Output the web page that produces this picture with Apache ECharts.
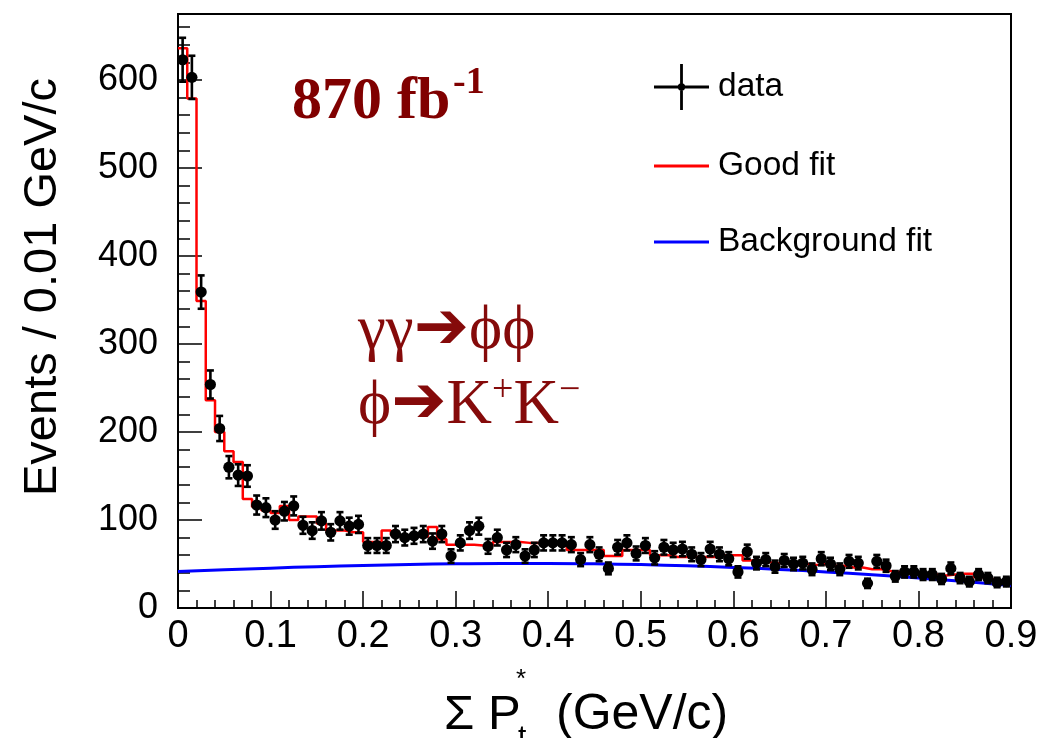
<!DOCTYPE html>
<html>
<head>
<meta charset="utf-8">
<script src="https://cdn.jsdelivr.net/npm/echarts@6/dist/echarts.min.js"></script>
<style>
  html, body { margin: 0; padding: 0; background: #ffffff; }
  #chart { width: 1043px; height: 738px; }
</style>
</head>
<body>
<div id="chart"></div>
<script>
// Histogram binning of the summed transverse momentum (GeV/c)
const binWidth = 0.01;
const xTickLabels = ['0', '0.1', '0.2', '0.3', '0.4', '0.5', '0.6', '0.7', '0.8', '0.9'];
const yTickLabels = ['0', '100', '200', '300', '400', '500', '600'];

// Observed events per 0.01 GeV/c bin (90 bins from 0 to 0.9)
const dataCounts = [
  623, 603, 359, 254, 204, 160, 151, 150, 117, 114,
  100, 110, 116, 94, 88, 99, 86, 99, 93, 95,
  71, 71, 71, 84, 80, 82, 84, 76, 84, 59,
  74, 88, 93, 70, 80, 66, 72, 59, 66, 74,
  74, 74, 72, 55, 72, 61, 45, 69, 74, 62,
  71, 57, 69, 66, 67, 61, 55, 67, 61, 56,
  41, 64, 51, 55, 47, 54, 50, 51, 44, 56,
  50, 44, 53, 51, 28, 53, 48, 36, 41, 41,
  38, 38, 33, 45, 34, 30, 38, 34, 29, 30
];

// Total fit (signal + background), one value per bin
const goodFit = [
  636, 579, 349, 236, 200, 178, 166, 124, 115, 111,
  108, 116, 100, 104, 104, 96, 88, 88, 86, 86,
  75, 75, 88, 83, 81, 81, 81, 92, 78, 72,
  72, 72, 71, 71, 75, 75, 75, 74, 74, 74,
  74, 74, 66, 66, 66, 66, 59, 59, 66, 66,
  66, 60, 60, 58, 58, 58, 58, 58, 60, 60,
  60, 54, 54, 52, 51, 51, 50, 50, 49, 50,
  48, 48, 46, 46, 44, 44, 42, 41, 40, 40,
  39, 38, 37, 38, 39, 39, 35, 33, 31, 30
];

// Background-only fit, sampled along the axis
const bgFitX = [0, 0.05, 0.1, 0.15, 0.2, 0.25, 0.3, 0.35, 0.4, 0.45,
                0.5, 0.55, 0.6, 0.65, 0.7, 0.75, 0.8, 0.85, 0.9];
const bgFitY = [41.5, 43.5, 45.3, 47.0, 48.3, 49.4, 50.2, 50.6, 50.6, 50.2,
                49.3, 47.9, 46.1, 43.8, 41.0, 37.8, 34.2, 30.0, 25.5];

const SANS = '"Liberation Sans", Arial, Helvetica, sans-serif';
const SERIF = '"Liberation Serif", "Times New Roman", serif';
const ANNOT = '#850a0a';

const chart = echarts.init(document.getElementById('chart'), null, { renderer: 'canvas' });

const pointData = dataCounts.map((n, i) => [(i + 0.5) * binWidth, n, Math.sqrt(n)]);
const fitData = goodFit.map((v, i) => [i * binWidth, v]);
fitData.push([goodFit.length * binWidth, goodFit[goodFit.length - 1]]);
const bgData = bgFitX.map((x, i) => [x, bgFitY[i]]);

const dataIcon = 'path://M0,21.6 H55 V24.4 H0 Z M26.1,0 H28.9 V46 H26.1 Z ' +
                 'M23.8,23 A3.7,3.7 0 1 1 31.2,23 A3.7,3.7 0 1 1 23.8,23 Z';

const option = {
  animation: false,
  backgroundColor: '#ffffff',
  grid: {
    left: 178, right: 32, top: 14, bottom: 130,
    show: true, borderColor: '#000', borderWidth: 2, backgroundColor: 'transparent'
  },
  legend: [
    {
      selectedMode: false,
      left: 649, top: 59,
      itemWidth: 55, itemHeight: 46,
      textStyle: { fontFamily: SANS, fontSize: 33.5, color: '#000', padding: [0, 0, 0, 4] },
      data: [{ name: 'data', icon: dataIcon }]
    },
    {
      selectedMode: false,
      orient: 'vertical',
      left: 649, top: 141,
      itemWidth: 55, itemHeight: 3, itemGap: 36,
      textStyle: { fontFamily: SANS, fontSize: 33.5, color: '#000', lineHeight: 40, padding: [0, 0, 0, 4] },
      data: [{ name: 'Good fit', icon: 'rect' }, { name: 'Background fit', icon: 'rect' }]
    }
  ],
  xAxis: {
    type: 'value', min: 0, max: 0.9, interval: 0.1,
    axisLine: { show: true, onZero: false, lineStyle: { color: '#000', width: 2 } },
    axisTick: { show: true, inside: true, length: 17, lineStyle: { color: '#000', width: 1.5 } },
    minorTick: { show: true, splitNumber: 5, length: 8, lineStyle: { color: '#000', width: 1.5 } },
    splitLine: { show: false },
    axisLabel: {
      margin: 10, fontSize: 38, color: '#000', fontFamily: SANS,
      formatter: v => xTickLabels[Math.round(v / 0.1)] ?? ''
    }
  },
  yAxis: [
    {
      type: 'value', min: 0, max: 675, interval: 100,
      axisLine: { show: true, onZero: false, lineStyle: { color: '#000', width: 2 } },
      axisTick: { show: true, inside: true, length: 24, lineStyle: { color: '#000', width: 1.5 } },
      splitLine: { show: false },
      axisLabel: {
        margin: 20, fontSize: 36, color: '#000', fontFamily: SANS, showMaxLabel: false,
        formatter: v => yTickLabels[Math.round(v / 100)] ?? ''
      }
    },
    {
      type: 'value', min: 0, max: 675, interval: 20, position: 'left',
      axisLine: { show: false },
      axisTick: { show: true, inside: true, length: 12, lineStyle: { color: '#000', width: 1.5 } },
      axisLabel: { show: false },
      splitLine: { show: false }
    }
  ],
  series: [
    {
      name: 'Background fit', type: 'line', yAxisIndex: 0,
      data: bgData, smooth: true, showSymbol: false, symbol: 'none',
      itemStyle: { color: '#0000ff' },
      lineStyle: { color: '#0000ff', width: 3 }, z: 2
    },
    {
      name: 'Good fit', type: 'line', yAxisIndex: 0,
      data: fitData, step: 'end', showSymbol: false, symbol: 'none',
      itemStyle: { color: '#ff0000' },
      lineStyle: { color: '#ff0000', width: 2.5 }, z: 3
    },
    {
      name: 'data', type: 'custom', yAxisIndex: 0,
      data: pointData, encode: { x: 0, y: 1 },
      itemStyle: { color: '#000' }, z: 4,
      renderItem: (params, api) => {
        const x = api.value(0), y = api.value(1), e = api.value(2);
        const c = api.coord([x, y]);
        const t = api.coord([x, y + e]);
        const b = api.coord([x, y - e]);
        const l = api.coord([x - binWidth / 2, y]);
        const r = api.coord([x + binWidth / 2, y]);
        const s = { stroke: '#000', lineWidth: 2.6 };
        return {
          type: 'group',
          children: [
            { type: 'line', shape: { x1: c[0], y1: t[1], x2: c[0], y2: b[1] }, style: s },
            { type: 'line', shape: { x1: c[0] - 3.5, y1: t[1], x2: c[0] + 3.5, y2: t[1] }, style: s },
            { type: 'line', shape: { x1: c[0] - 3.5, y1: b[1], x2: c[0] + 3.5, y2: b[1] }, style: s },
            { type: 'line', shape: { x1: l[0], y1: c[1], x2: r[0], y2: c[1] }, style: s },
            { type: 'circle', shape: { cx: c[0], cy: c[1], r: 5.6 }, style: { fill: '#000' } }
          ]
        };
      }
    }
  ],
  graphic: [
    // luminosity
    { type: 'text', left: 292, top: 72,
      style: { text: '870 fb', font: 'bold 60px ' + SERIF, fill: '#800000' } },
    { type: 'text', left: 453, top: 64,
      style: { text: '-1', font: 'bold 38px ' + SERIF, fill: '#800000' } },
    // process
    { type: 'text', left: 358, top: 298,
      style: {
        text: '{g|γγ}{a|➔}{g|ϕϕ}',
        rich: {
          g: { font: '63px ' + SERIF, fill: ANNOT },
          a: { font: 'bold 66px "DejaVu Sans", sans-serif', fill: ANNOT }
        }
      } },
    { type: 'text', left: 358, top: 372,
      style: {
        text: '{g|ϕ}{a|➔}{g|K}{s|+}{g|K}{s|−}',
        rich: {
          g: { font: '63px ' + SERIF, fill: ANNOT, verticalAlign: 'bottom' },
          a: { font: 'bold 66px "DejaVu Sans", sans-serif', fill: ANNOT },
          s: { font: '38px ' + SERIF, fill: ANNOT, verticalAlign: 'top' }
        }
      } },
    // y axis title
    { type: 'text', x: 43, y: 287, rotation: Math.PI / 2,
      style: { text: 'Events / 0.01 GeV/c', font: '47px ' + SANS, fill: '#000',
               align: 'center', verticalAlign: 'middle' } },
    // x axis title
    { type: 'text', x: 444, y: 715,
      style: { text: 'Σ P', font: '49px ' + SANS, fill: '#000', align: 'left', verticalAlign: 'middle' } },
    { type: 'text', x: 518, y: 738,
      style: { text: 't', font: '30px ' + SANS, fill: '#000', align: 'left', verticalAlign: 'middle' } },
    { type: 'text', x: 516, y: 680,
      style: { text: '*', font: '26px ' + SANS, fill: '#000', align: 'left', verticalAlign: 'middle' } },
    { type: 'text', x: 556, y: 715,
      style: { text: '(GeV/c)', font: '50px ' + SANS, fill: '#000', align: 'left', verticalAlign: 'middle' } }
  ]
};

chart.setOption(option);
</script>
</body>
</html>
